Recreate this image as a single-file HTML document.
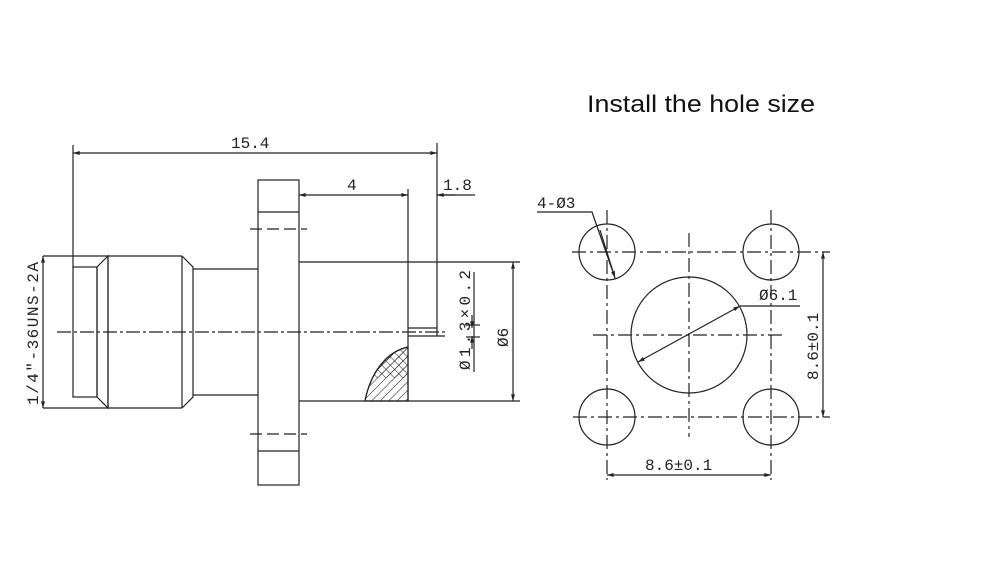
<!DOCTYPE html>
<html><head><style>body{margin:0;background:#fff}svg{display:block}</style></head>
<body>
<svg width="1000" height="571" viewBox="0 0 1000 571" xmlns="http://www.w3.org/2000/svg">
<defs>
<marker id="a" viewBox="0 0 10 6" refX="10" refY="3" markerWidth="8" markerHeight="4" orient="auto-start-reverse" markerUnits="userSpaceOnUse"><path d="M0,0L10,3L0,6z" fill="#222"/></marker>
<pattern id="x" width="6" height="6" patternUnits="userSpaceOnUse" patternTransform="rotate(45)"><path d="M0,0V6M0,0H6" stroke="#222" stroke-width="1"/></pattern>
<pattern id="h" width="6" height="6" patternUnits="userSpaceOnUse" patternTransform="rotate(45)"><path d="M0,0V6" stroke="#222" stroke-width="1"/></pattern>
</defs>
<text x="587" y="112" font-family="Liberation Sans, sans-serif" font-size="24" fill="#111" textLength="228" lengthAdjust="spacingAndGlyphs">Install the hole size</text>
<g stroke="#222" stroke-width="1.2" fill="none">
<line x1="73" y1="145" x2="73" y2="268"/>
<line x1="437" y1="143" x2="437" y2="336"/>
<line x1="73" y1="153" x2="437" y2="153" marker-start="url(#a)" marker-end="url(#a)"/>
<rect x="258" y="180" width="41" height="305"/>
<line x1="258" y1="212" x2="299" y2="212"/>
<line x1="258" y1="451" x2="299" y2="451"/>
<line x1="250" y1="229" x2="307" y2="229" stroke-dasharray="12 5"/>
<line x1="250" y1="434" x2="307" y2="434" stroke-dasharray="12 5"/>
<line x1="43" y1="256" x2="182" y2="256"/>
<line x1="43" y1="408" x2="182" y2="408"/>
<rect x="73" y="267" width="24" height="130"/>
<path d="M108,256 L97,267 L97,397 L108,408 Z"/>
<path d="M182,256 L193,267 L193,397 L182,408"/>
<line x1="108" y1="256" x2="108" y2="408"/>
<line x1="182" y1="256" x2="182" y2="408"/>
<line x1="193" y1="269" x2="258" y2="269"/>
<line x1="193" y1="395" x2="258" y2="395"/>
<line x1="43" y1="256" x2="43" y2="408" marker-start="url(#a)" marker-end="url(#a)"/>
<line x1="299" y1="262" x2="520" y2="262"/>
<line x1="299" y1="401" x2="520" y2="401"/>
<line x1="408" y1="189" x2="408" y2="401"/>
<line x1="408" y1="328" x2="437" y2="328"/>
<line x1="408" y1="336" x2="445" y2="336"/>
<line x1="299" y1="195" x2="408" y2="195" marker-start="url(#a)" marker-end="url(#a)"/>
<line x1="437" y1="195" x2="475" y2="195"/>
<line x1="455" y1="195" x2="437" y2="195" marker-end="url(#a)"/>
<line x1="513" y1="262" x2="513" y2="401" marker-start="url(#a)" marker-end="url(#a)"/>
<line x1="472" y1="315" x2="472" y2="328" marker-end="url(#a)"/>
<line x1="472" y1="349" x2="472" y2="336" marker-end="url(#a)"/>
<line x1="466" y1="325" x2="480" y2="325"/>
<line x1="466" y1="337" x2="480" y2="337"/>
<line x1="474" y1="272" x2="474" y2="372"/>
<line x1="57" y1="332" x2="445" y2="332" stroke-dasharray="14 3 3 3"/>
<path d="M408,347 C385,352 370,375 365,401 L408,401 Z" fill="url(#h)"/>
<path d="M408,347 C390,351 378,363 372,378 L408,378 Z" fill="url(#x)" stroke="none"/>
<path d="M408,347 C385,352 370,375 365,401"/>
</g>
<g font-family="Liberation Mono, monospace" font-size="16" fill="#222">
<text x="231" y="148">15.4</text>
<text x="347" y="190">4</text>
<text x="443" y="190">1.8</text>
<text transform="translate(38,405) rotate(-90)" textLength="143">1/4″-36UNS-2A</text>
<text transform="translate(470,370) rotate(-90)" textLength="100">Ø1.3×0.2</text>
<text transform="translate(508,347) rotate(-90)">Ø6</text>
</g>
<g stroke="#222" stroke-width="1.2" fill="none">
<circle cx="607" cy="252" r="28"/>
<circle cx="771" cy="252" r="28"/>
<circle cx="607" cy="417" r="28"/>
<circle cx="771" cy="417" r="28"/>
<circle cx="689" cy="335" r="58"/>
<g stroke-dasharray="14 4 3 4">
<line x1="572" y1="252" x2="830" y2="252"/>
<line x1="573" y1="417" x2="830" y2="417"/>
<line x1="593" y1="335" x2="785" y2="335"/>
<line x1="607" y1="210" x2="607" y2="480"/>
<line x1="771" y1="210" x2="771" y2="480"/>
<line x1="689" y1="233" x2="689" y2="437"/>
</g>
<line x1="607" y1="475" x2="771" y2="475" marker-start="url(#a)" marker-end="url(#a)"/>
<line x1="823" y1="252" x2="823" y2="417" marker-start="url(#a)" marker-end="url(#a)"/>
<line x1="638" y1="362" x2="740" y2="306" marker-start="url(#a)" marker-end="url(#a)"/>
<line x1="740" y1="306" x2="800" y2="306"/>
<path d="M537,212 L592,212 L615,278"/>
<line x1="600" y1="230" x2="615" y2="278" marker-end="url(#a)"/>
</g>
<g font-family="Liberation Mono, monospace" font-size="16" fill="#222">
<text x="537" y="208">4-Ø3</text>
<text x="759" y="300">Ø6.1</text>
<text x="645" y="470">8.6±0.1</text>
<text transform="translate(818,380) rotate(-90)">8.6±0.1</text>
</g>
</svg>
</body></html>
